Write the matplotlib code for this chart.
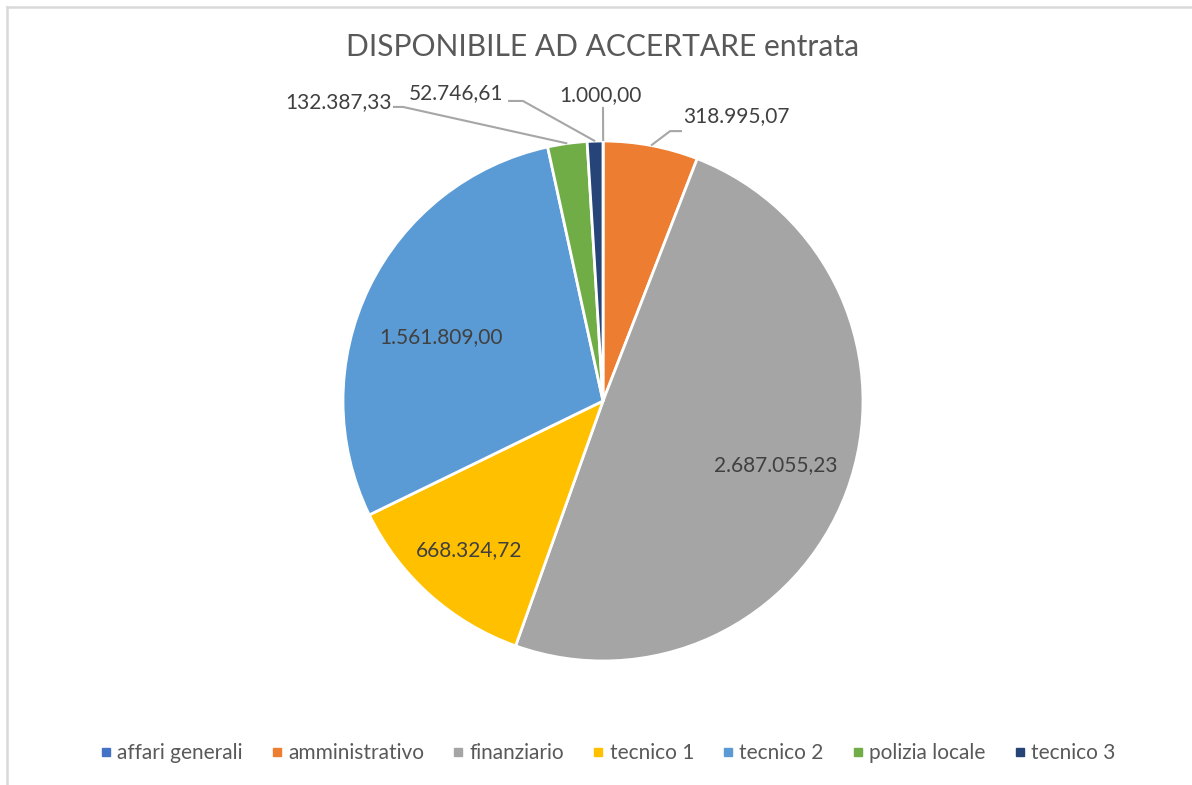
import matplotlib
matplotlib.use("Agg")
import matplotlib.pyplot as plt
import numpy as np
from matplotlib.lines import Line2D

plt.rcParams['font.family'] = ['Lato', 'DejaVu Sans']

# ---- data ----
categories = ["affari generali", "amministrativo", "finanziario", "tecnico 1",
              "tecnico 2", "polizia locale", "tecnico 3"]
values = [1000.00, 318995.07, 2687055.23, 668324.72, 1561809.00, 132387.33, 52746.61]
value_labels = ["1.000,00", "318.995,07", "2.687.055,23", "668.324,72",
                "1.561.809,00", "132.387,33", "52.746,61"]
colors = ["#4472C4", "#ED7D31", "#A5A5A5", "#FFC000", "#5B9BD5", "#70AD47", "#264478"]
title = "DISPONIBILE AD ACCERTARE entrata"

W, H = 1192, 785
fig = plt.figure(figsize=(W / 100, H / 100), dpi=100)
fig.patch.set_facecolor("white")

# chart border (top & left visible)
fig.add_artist(Line2D([7 / W, 1], [1 - 7 / H, 1 - 7 / H], color="#D9D9D9", lw=1.8))
fig.add_artist(Line2D([7 / W, 7 / W], [0, 1 - 7 / H], color="#D9D9D9", lw=1.8))

# pie axes: center (603,401) px, radius 260 px
cx, cy, R, half = 603, 401, 260, 320
ax = fig.add_axes([(cx - half) / W, (H - cy - half) / H, 2 * half / W, 2 * half / H])

wedges, _ = ax.pie(values, colors=colors, startangle=90, counterclock=False, radius=1.0,
                   wedgeprops=dict(edgecolor="white", linewidth=2.0))
ax.set_xlim(-half / R, half / R)
ax.set_ylim(-half / R, half / R)
ax.set_aspect("equal")
ax.axis("off")

label_color = "#404040"
fs = 15

# layout of labels: inside (radius factor, angle shift deg) or outside
inside = {2: (0.71, 0.0), 3: (0.77, 0.0), 4: (0.67, 4.5)}
outside = {
    0: dict(text=(-0.008, 1.177), ha="center", elbow=None, end=(0.0, 1.131)),
    1: dict(text=(0.308, 1.096), ha="left", elbow=(0.258, 1.038), end=(0.304, 1.038)),
    5: dict(text=(-0.812, 1.150), ha="right", elbow=(-0.769, 1.131), end=(-0.808, 1.131)),
    6: dict(text=(-0.385, 1.185), ha="right", elbow=(-0.308, 1.154), end=(-0.365, 1.154)),
}

for i, w in enumerate(wedges):
    mid_deg = (w.theta1 + w.theta2) / 2
    if i in inside:
        r, shift = inside[i]
        mid = np.deg2rad(mid_deg + shift)
        ax.text(r * np.cos(mid), r * np.sin(mid), value_labels[i], ha="center", va="center",
                fontsize=fs, color=label_color)
    else:
        mid = np.deg2rad(mid_deg)
        o = outside[i]
        ex, ey = np.cos(mid), np.sin(mid)
        pts = [(ex, ey)]
        if o["elbow"] is not None:
            pts.append(o["elbow"])
        pts.append(o["end"])
        xs, ys = zip(*pts)
        ax.plot(xs, ys, color="#A6A6A6", lw=1.5, solid_capstyle="butt")
        ax.text(o["text"][0], o["text"][1], value_labels[i], ha=o["ha"], va="center",
                fontsize=fs, color=label_color)

fig.text(cx / W, 1 - 47 / H, title, ha="center", va="center", fontsize=21.6, color="#595959")

handles = [Line2D([], [], marker="s", linestyle="none", markersize=5.8,
                  markerfacecolor=c, markeredgecolor=c) for c in colors]
fig.legend(handles, categories, loc="center", bbox_to_anchor=(608 / W, 1 - 753 / H),
           ncol=7, frameon=False, fontsize=15, labelcolor="#595959",
           handlelength=0.5, handletextpad=0.3, columnspacing=1.38)

fig.savefig("out.png", dpi=100, facecolor="white")
